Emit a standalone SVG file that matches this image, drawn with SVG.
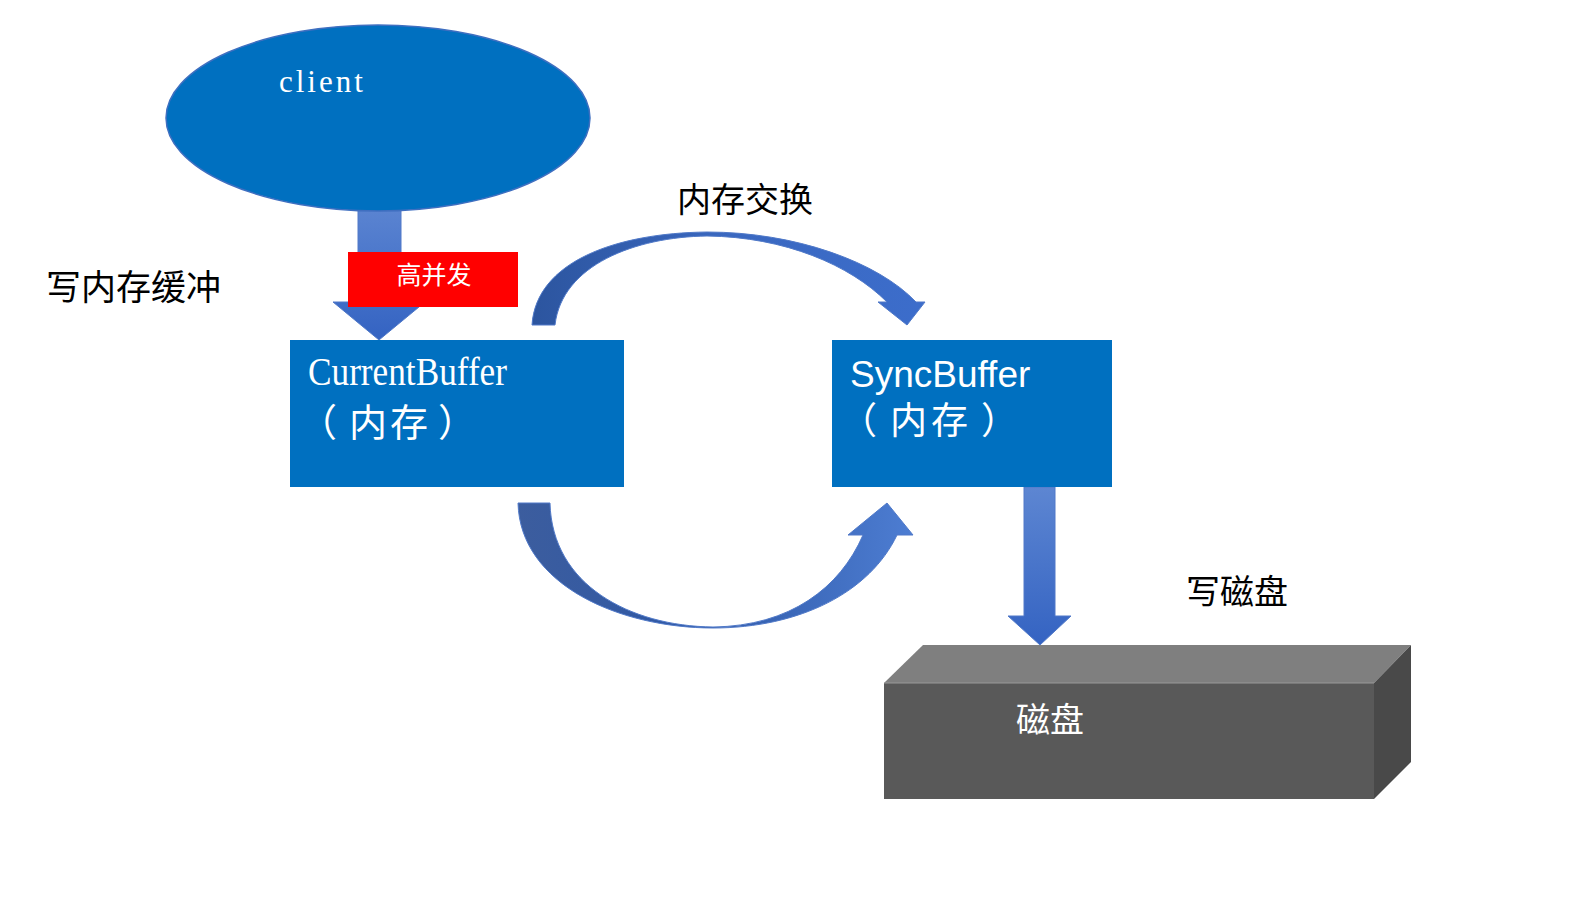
<svg xmlns="http://www.w3.org/2000/svg" width="1594" height="920" viewBox="0 0 1594 920">
<defs>
<linearGradient id="gV" x1="0" y1="0" x2="0" y2="1"><stop offset="0" stop-color="#5d86d2"/><stop offset="1" stop-color="#3463c2"/></linearGradient>
<linearGradient id="gTop" x1="0" y1="0" x2="1" y2="0"><stop offset="0" stop-color="#2c559f"/><stop offset="0.5" stop-color="#3a68c0"/><stop offset="1" stop-color="#3c6dcb"/></linearGradient>
<linearGradient id="gBot" x1="0" y1="0" x2="1" y2="0"><stop offset="0" stop-color="#3c5d9e"/><stop offset="0.45" stop-color="#2e58a6"/><stop offset="1" stop-color="#4d7dd2"/></linearGradient>
<style>
.box{fill:#0070c0}
.lbl{font-family:"Noto Sans CJK SC",sans-serif;fill:#000}
.wcjk{font-family:"Noto Sans CJK SC",sans-serif;fill:#fff}
.arr{stroke:#5079c8;stroke-width:1}
</style>
</defs>
<g id="connectors">
<path class="arr" fill="url(#gV)" d="M358,200 L401,200 L401,302 L425,302 L379,340 L333,302 L358,302 Z"/>
<path class="arr" fill="url(#gTop)" d="M532,325 C536,262 615,233 707,232 C795,232 878,262 916,302 L925,302 L907,325 L878,302 L887,302 C850,265 785,237 707,236 C635,237 562,265 555,325 Z"/>
<path class="arr" fill="url(#gBot)" d="M518,503 C520,585 620,628 713,628 C800,628 870,592 897,535 L913,535 L887,503 L848,535 L863,535 C840,588 790,626 713,627 C630,626 552,585 550,503 Z"/>
<path class="arr" fill="url(#gV)" d="M1024,487 L1055,487 L1055,616 L1071,616 L1040,645 L1008,616 L1024,616 Z"/>
</g>
<g id="client">
<ellipse cx="378" cy="118" rx="212" ry="93" fill="#0070c0" stroke="#3f6fc0" stroke-width="1.5"/>
<text x="279" y="92" font-family="Liberation Serif, serif" font-size="31" letter-spacing="3" fill="#fff">client</text>
</g>
<g id="highConcurrency">
<rect x="348" y="252" width="170" height="55" fill="#ff0000"/>
<text x="434" y="284" text-anchor="middle" class="wcjk" font-size="25">高并发</text>
</g>
<g id="currentBuffer">
<rect class="box" x="290" y="340" width="334" height="147"/>
<text x="308" y="385" font-family="Liberation Serif, serif" font-size="40" textLength="199" lengthAdjust="spacingAndGlyphs" fill="#fff">CurrentBuffer</text>
<text y="436" class="wcjk" font-size="38"><tspan x="299">（</tspan><tspan x="349">内</tspan><tspan x="390">存</tspan><tspan x="438">）</tspan></text>
</g>
<g id="syncBuffer">
<rect class="box" x="832" y="340" width="280" height="147"/>
<text x="850" y="387" font-family="Liberation Sans, sans-serif" font-size="37" fill="#fff">SyncBuffer</text>
<text y="434" class="wcjk" font-size="37"><tspan x="840">（</tspan><tspan x="890">内</tspan><tspan x="931">存</tspan><tspan x="981">）</tspan></text>
</g>
<g id="disk">
<polygon points="884,683 923,645 1411,645 1374,683" fill="#7f7f7f"/>
<polygon points="1374,683 1411,645 1411,762 1374,799" fill="#494949"/>
<rect x="884" y="683" width="490" height="116" fill="#595959"/>
<line x1="884" y1="683" x2="1374" y2="683" stroke="#9a9a9a" stroke-width="1"/>
<text x="1016" y="732" class="wcjk" font-size="34">磁盘</text>
</g>
<g id="labels">
<text x="46" y="300" class="lbl" font-size="35">写内存缓冲</text>
<text x="677" y="212" class="lbl" font-size="34">内存交换</text>
<text x="1186" y="604" class="lbl" font-size="34">写磁盘</text>
</g>
</svg>
